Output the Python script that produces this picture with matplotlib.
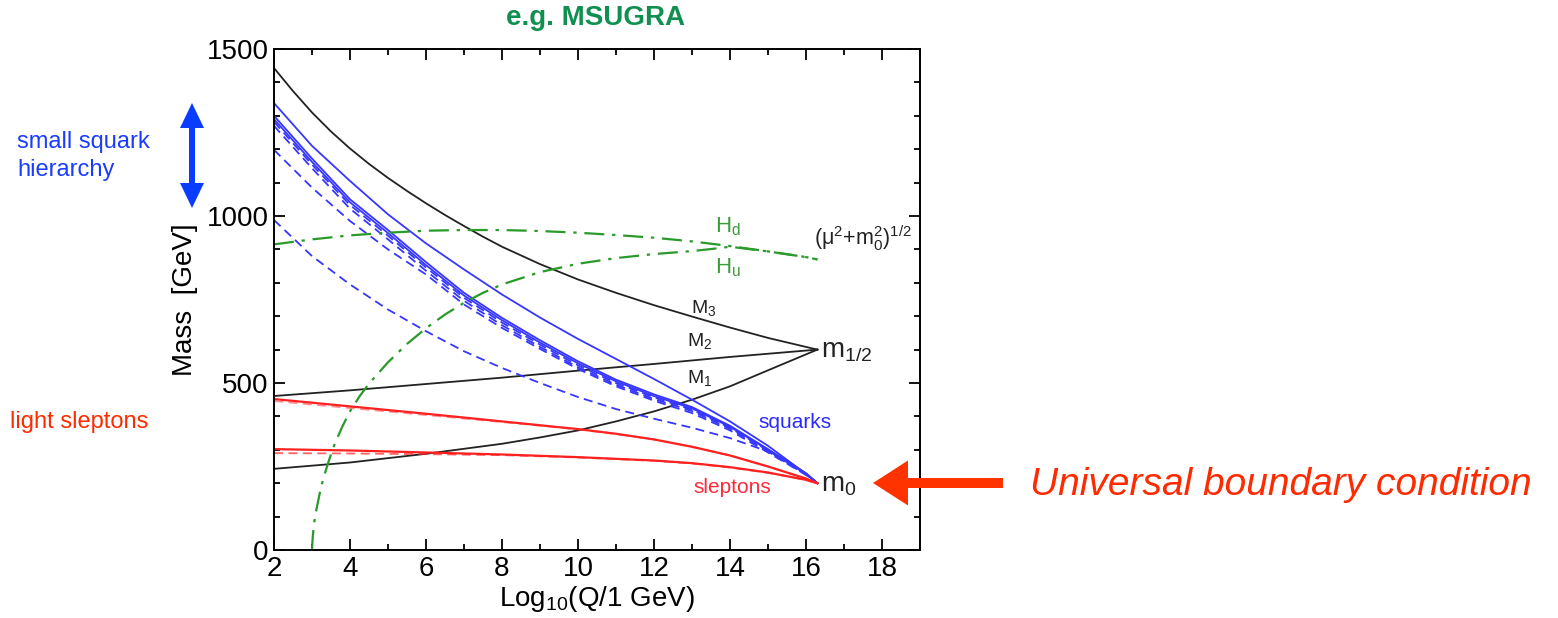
import numpy as np
import matplotlib.pyplot as plt
from matplotlib.patches import FancyArrow
from matplotlib.transforms import IdentityTransform
from matplotlib.ticker import MultipleLocator

plt.rcParams['font.family'] = ['Liberation Sans', 'DejaVu Sans']
plt.rcParams['mathtext.fontset'] = 'custom'
plt.rcParams['mathtext.rm'] = 'Liberation Sans'
plt.rcParams['mathtext.it'] = 'Liberation Sans:italic'

# running masses vs log10(Q/GeV)
x_M3 = [2, 2.5, 3, 3.5, 4, 4.5, 5, 5.5, 6, 6.5, 7, 7.5, 8, 9, 10, 11, 12, 13, 14, 15, 16, 16.3]
M3 = [1443, 1374, 1310, 1253, 1202, 1156, 1114, 1075, 1038, 1003, 970, 938, 908, 856, 810,
      770, 733, 699, 666, 635, 608, 600]

x_M2 = [2, 4, 6, 8, 10, 12, 14, 16.3]
M2 = [461, 478, 497, 516, 537, 557, 578, 600]

x_M1 = [2, 4, 6, 8, 9, 10, 11, 12, 13, 14, 15, 16.3]
M1 = [243, 262, 288, 318, 337, 358, 385, 415, 450, 490, 538, 600]

# squarks
x_sq = [2, 3, 4, 5, 6, 7, 8, 9, 10, 11, 12, 13, 14, 15, 16, 16.3]
sq_top = [1338, 1210, 1105, 1005, 918, 840, 765, 696, 632, 572, 512, 450, 385, 312, 228, 200]
sq_a = [1300, 1172, 1050, 958, 862, 770, 695, 628, 565, 510, 466, 428, 372, 302, 230, 200]
sq_b = [1290, 1162, 1041, 949, 853, 762, 688, 621, 559, 505, 461, 424, 369, 300, 229, 200]
sq_c = [1282, 1154, 1033, 941, 846, 755, 681, 615, 553, 500, 457, 420, 366, 298, 228, 200]
sq_d = [1270, 1143, 1022, 930, 836, 746, 673, 608, 547, 495, 452, 416, 363, 296, 227, 200]
sq_e = [1198, 1085, 985, 900, 825, 735, 665, 602, 542, 490, 447, 410, 358, 292, 225, 200]
sq_f = [988, 880, 795, 720, 655, 595, 545, 500, 458, 422, 393, 366, 335, 295, 225, 200]

# sleptons
x_sl = [2, 4, 6, 8, 10, 11, 12, 13, 14, 15, 16, 16.3]
sl_top = [452, 430, 408, 385, 362, 348, 331, 309, 283, 250, 214, 200]
sl_top_d = [446, 425, 404, 383, 361, 347, 331, 309, 283, 250, 214, 200]
sl_low = [302, 298, 292, 286, 278, 273, 268, 260, 248, 232, 210, 200]
sl_low_d = [290, 289, 287, 284, 277, 272, 267, 259, 247, 231, 210, 200]

# Higgs mass parameters
x_Hd = [2, 3, 4, 5, 6, 7, 8, 9, 10, 11, 12, 13, 14, 15, 16, 16.3]
Hd = [915, 930, 942, 950, 956, 958, 958, 955, 950, 943, 935, 924, 910, 894, 877, 870]
x_Hu = [3.0, 3.02, 3.05, 3.1, 3.2, 3.3, 3.45, 3.6, 3.8, 4, 4.25, 4.5, 5, 5.5, 6, 6.5, 7,
        7.5, 8, 9, 10, 11, 12, 13, 13.5, 14, 15, 16, 16.3]
Hu = [0, 40, 75, 112, 168, 215, 270, 318, 370, 415, 460, 498, 562, 617, 664, 705, 740,
      770, 795, 832, 857, 874, 886, 895, 901, 908, 894, 877, 870]

black = '#222222'
blue = '#3636ff'
red = '#ff2020'
green = '#2a9a2a'
dashed = (0, (5, 3))
dashdot = (0, (9, 3.5, 1.5, 3.5))

fig = plt.figure(figsize=(15.58, 6.18), dpi=100)
ax = fig.add_axes([274 / 1558, 68 / 618, 646 / 1558, 501 / 618])

ax.plot(x_M3, M3, color=black, lw=1.3)
ax.plot(x_M2, M2, color=black, lw=1.3)
ax.plot(x_M1, M1, color=black, lw=1.3)

ax.plot(x_sq, sq_top, color=blue, lw=1.3)
ax.plot(x_sq, sq_a, color=blue, lw=1.3)
ax.plot(x_sq, sq_b, color=blue, lw=1.3)
ax.plot(x_sq, sq_c, color=blue, lw=1.3, ls=dashed)
ax.plot(x_sq, sq_d, color=blue, lw=1.3, ls=dashed)
ax.plot(x_sq, sq_e, color=blue, lw=1.3, ls=dashed)
ax.plot(x_sq, sq_f, color=blue, lw=1.3, ls=dashed)

ax.plot(x_sl, sl_top_d, color=red, lw=1.3, ls=dashed, alpha=0.5)
ax.plot(x_sl, sl_top, color=red, lw=1.6)
ax.plot(x_sl, sl_low_d, color=red, lw=1.3, ls=dashed, alpha=0.7)
ax.plot(x_sl, sl_low, color=red, lw=1.6)

ax.plot(x_Hd, Hd, color=green, lw=1.6, ls=dashdot)
ax.plot(x_Hu, Hu, color=green, lw=1.6, ls=dashdot)

ax.set_xlim(2, 19)
ax.set_ylim(0, 1500)
ax.xaxis.set_major_locator(MultipleLocator(2))
ax.xaxis.set_minor_locator(MultipleLocator(1))
ax.yaxis.set_major_locator(MultipleLocator(500))
ax.yaxis.set_minor_locator(MultipleLocator(100))
ax.tick_params(which='both', direction='in', top=True, right=True, width=1.3, labelsize=20, pad=4)
ax.tick_params(which='major', length=8)
ax.tick_params(which='minor', length=4.5)
for s in ax.spines.values():
    s.set_linewidth(1.4)

ax.set_xlabel(r'Log$_{10}$(Q/1 GeV)', fontsize=20, labelpad=2)
ax.set_ylabel('Mass  [GeV]', fontsize=20, labelpad=6)

# curve labels
ax.text(13.3, 725, r'M$_3$', fontsize=14, ha='center', va='center', color=black)
ax.text(13.2, 625, r'M$_2$', fontsize=14, ha='center', va='center', color=black)
ax.text(13.2, 515, r'M$_1$', fontsize=14, ha='center', va='center', color=black)
ax.text(16.4, 595, r'm$_{1/2}$', fontsize=20, ha='left', va='center', color=black)
ax.text(16.4, 195, r'm$_0$', fontsize=20, ha='left', va='center', color=black)
ax.text(15.7, 382, 'squarks', fontsize=15, ha='center', va='center', color='#2b2bff')
ax.text(14.05, 188, 'sleptons', fontsize=15, ha='center', va='center', color='#ff2a3a')
ax.text(13.95, 968, r'H$_\mathrm{d}$', fontsize=16, ha='center', va='center', color='#3c9c3c')
ax.text(13.95, 845, r'H$_\mathrm{u}$', fontsize=16, ha='center', va='center', color='#3c9c3c')
ax.text(16.2, 935, r'(μ$^2$+m$_0^2$)$^{1/2}$', fontsize=15.5, ha='left', va='center', color=black)

# annotations outside the axes
fig.text(596 / 1558, 1 - 18 / 618, 'e.g. MSUGRA', fontsize=20, fontweight='bold',
         color='#109050', ha='center', va='center')
fig.text(17 / 1558, 1 - 156 / 618, 'small squark\nhierarchy', fontsize=17, color='#1a3cff',
         ha='left', va='center', linespacing=1.35)
fig.text(10 / 1558, 1 - 422 / 618, 'light sleptons', fontsize=17, color='#ff2a00',
         ha='left', va='center')
fig.text(1030 / 1558, 1 - 485 / 618, 'Universal boundary condition', fontsize=28,
         style='italic', color='#ff2a00', ha='left', va='center')

H = 618
idt = IdentityTransform()
fig.add_artist(FancyArrow(1003, H - 483, -130, 0, width=10, head_width=45, head_length=35,
                          length_includes_head=True, color='#ff3300', lw=0, transform=idt))
fig.add_artist(FancyArrow(192, H - 155, 0, 52, width=6, head_width=24, head_length=25,
                          length_includes_head=True, color='#0a3cff', lw=0, transform=idt))
fig.add_artist(FancyArrow(192, H - 155, 0, -53, width=6, head_width=24, head_length=25,
                          length_includes_head=True, color='#0a3cff', lw=0, transform=idt))

fig.savefig('out.png', dpi=100)
